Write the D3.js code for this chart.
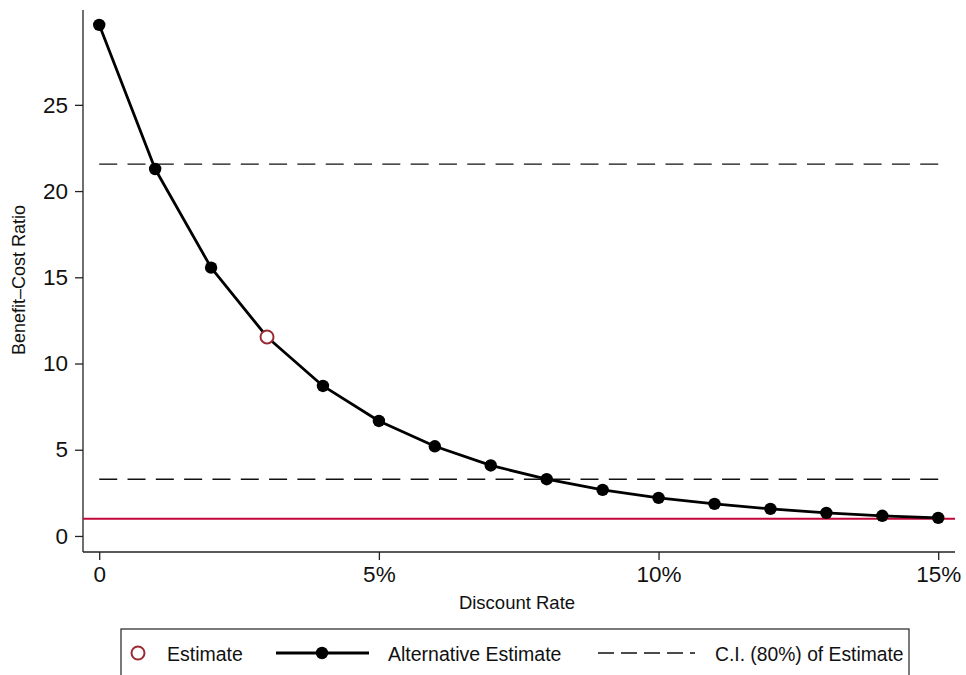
<!DOCTYPE html>
<html>
<head>
<meta charset="utf-8">
<script src="https://cdn.jsdelivr.net/npm/d3@7"></script>
<style>
  body { margin: 0; background: #fff; }
  svg { display: block; font-family: "Liberation Sans", Arial, Helvetica, sans-serif; }
</style>
</head>
<body>
<svg id="chart" width="966" height="675"></svg>
<script>
// ---- data ----
const rates = [0, 1, 2, 3, 4, 5, 6, 7, 8, 9, 10, 11, 12, 13, 14, 15];
const bcr = [29.64, 21.28, 15.56, 11.54, 8.70, 6.67, 5.20, 4.09, 3.29, 2.67, 2.21, 1.86, 1.57, 1.34, 1.17, 1.05];
const estimateRate = [3];
const estimateValue = [11.54];
const ciBounds = [21.56, 3.29];
const ciRange = [0, 15];
const breakEven = [1];
const xTickValues = [0, 5, 10, 15];
const xTickLabels = ["0", "5%", "10%", "15%"];
const yTickValues = [0, 5, 10, 15, 20, 25];
const legendLabels = ["Estimate", "Alternative Estimate", "C.I. (80%) of Estimate"];

// ---- layout ----
const svg = d3.select("#chart");
const plot = { left: 83, right: 955, top: 10, bottom: 552 };
const x = d3.scaleLinear().domain([-0.29, 15.3]).range([plot.left, plot.right]);
const y = d3.scaleLinear().domain([-0.93, 30.5]).range([plot.bottom, plot.top]);

const estColor = "#9b2a32";
const redColor = "#c2073a";
const font = "Liberation Sans, Arial, sans-serif";

// axes
const yAxis = svg.append("g").attr("transform", `translate(${plot.left},0)`)
  .call(d3.axisLeft(y).tickValues(yTickValues).tickSize(8).tickPadding(7).tickFormat(d3.format("d")));
yAxis.select(".domain").attr("d", `M0,${plot.top}V${plot.bottom}`).attr("stroke", "#222").attr("stroke-width", 1.3);
yAxis.selectAll(".tick line").attr("stroke", "#222").attr("stroke-width", 1.3);
yAxis.selectAll(".tick text").attr("font-size", 22.5).attr("fill", "#111").attr("font-family", font);

const xAxis = svg.append("g").attr("transform", `translate(0,${plot.bottom})`)
  .call(d3.axisBottom(x).tickValues(xTickValues).tickSize(8).tickPadding(6)
    .tickFormat((d, i) => xTickLabels[i]));
xAxis.select(".domain").attr("d", `M${plot.left},0H${plot.right}`).attr("stroke", "#222").attr("stroke-width", 1.3);
xAxis.selectAll(".tick line").attr("stroke", "#222").attr("stroke-width", 1.3);
xAxis.selectAll(".tick text").attr("font-size", 22.5).attr("fill", "#111").attr("font-family", font);

// axis titles
svg.append("text").attr("x", 517).attr("y", 608.5)
  .attr("text-anchor", "middle").attr("font-size", 18.5).attr("fill", "#111").text("Discount Rate");
svg.append("text").attr("transform", `translate(25,280) rotate(-90)`)
  .attr("text-anchor", "middle").attr("font-size", 18).attr("fill", "#111").text("Benefit\u2013Cost Ratio");

// break-even line
svg.append("line")
  .attr("x1", plot.left).attr("x2", plot.right)
  .attr("y1", y(breakEven[0])).attr("y2", y(breakEven[0]))
  .attr("stroke", redColor).attr("stroke-width", 2);

// CI dashed lines (dash pattern fitted so both ends are dashes)
const ciLen = x(ciRange[1]) - x(ciRange[0]);
const dashLen = 18;
const nPeriods = Math.round((ciLen - dashLen) / 28);
const gapLen = (ciLen - dashLen) / nPeriods - dashLen;
svg.selectAll(".ci").data(ciBounds).enter().append("line")
  .attr("x1", x(ciRange[0])).attr("x2", x(ciRange[1]))
  .attr("y1", d => y(d)).attr("y2", d => y(d))
  .attr("stroke", "#111").attr("stroke-width", 1.3).attr("stroke-dasharray", `${dashLen},${gapLen}`);

// alternative estimate line
const pts = rates.map((r, i) => [r, bcr[i]]);
svg.append("path").datum(pts)
  .attr("d", d3.line().x(d => x(d[0])).y(d => y(d[1])))
  .attr("fill", "none").attr("stroke", "#000").attr("stroke-width", 2.8).attr("stroke-linejoin", "round");

svg.selectAll(".dot").data(pts.filter(d => !estimateRate.includes(d[0]))).enter().append("circle")
  .attr("cx", d => x(d[0])).attr("cy", d => y(d[1])).attr("r", 6.2).attr("fill", "#000");

// estimate
svg.selectAll(".est").data(estimateRate).enter().append("circle")
  .attr("cx", d => x(d)).attr("cy", (d, i) => y(estimateValue[i])).attr("r", 6.5)
  .attr("fill", "#fff").attr("stroke", estColor).attr("stroke-width", 2);

// legend
const lg = svg.append("g");
lg.append("rect").attr("x", 121).attr("y", 629).attr("width", 788).attr("height", 60)
  .attr("fill", "#fff").attr("stroke", "#333").attr("stroke-width", 1.3);
const ly = 653;
lg.append("circle").attr("cx", 138).attr("cy", ly).attr("r", 6.5)
  .attr("fill", "#fff").attr("stroke", estColor).attr("stroke-width", 2);
lg.append("text").attr("x", 167).attr("y", ly + 7.5).attr("font-size", 19.5).attr("fill", "#111").text(legendLabels[0]);
lg.append("line").attr("x1", 276).attr("x2", 369).attr("y1", ly).attr("y2", ly)
  .attr("stroke", "#000").attr("stroke-width", 2.8);
lg.append("circle").attr("cx", 322).attr("cy", ly).attr("r", 6.2).attr("fill", "#000");
lg.append("text").attr("x", 388).attr("y", ly + 7.5).attr("font-size", 19.5).attr("fill", "#111").text(legendLabels[1]);
lg.append("line").attr("x1", 598).attr("x2", 695).attr("y1", ly).attr("y2", ly)
  .attr("stroke", "#111").attr("stroke-width", 1.3).attr("stroke-dasharray", "16,7");
lg.append("text").attr("x", 715).attr("y", ly + 7.5).attr("font-size", 19.3).attr("fill", "#111").text(legendLabels[2]);
</script>
</body>
</html>
